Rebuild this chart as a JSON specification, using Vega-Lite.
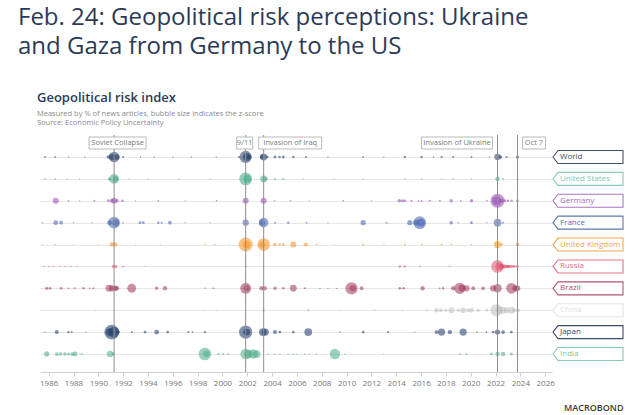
{
  "$schema": "https://vega.github.io/schema/vega-lite/v6.json",
  "background": "white",
  "padding": {"left": 18, "top": 6, "right": 16, "bottom": 4},
  "bounds": "flush",
  "spacing": 0,
  "config": {"view": {"stroke": null}, "font": "Open Sans"},
  "title": {
    "text": ["Feb. 24: Geopolitical risk perceptions: Ukraine", "and Gaza from Germany to the US"],
    "anchor": "start", "fontSize": 24, "font": "Open Sans", "fontWeight": 500,
    "color": "#2b3b57", "lineHeight": 29, "offset": 33
  },
  "datasets": {
    "events": [
      {"event": "Soviet Collapse", "year": 1991.27},
      {"event": "9/11", "year": 2001.87},
      {"event": "Invasion of Iraq", "year": 2003.32},
      {"event": "Invasion of Ukraine", "year": 2022.16},
      {"event": "Oct 7", "year": 2023.77}
    ],
    "tags": [
      {"country": "World"}, {"country": "United States"}, {"country": "Germany"}, {"country": "France"},
      {"country": "United Kingdom"}, {"country": "Russia"}, {"country": "Brazil"}, {"country": "China"},
      {"country": "Japan"}, {"country": "India"}
    ],
    "risk": [
      {"country": "World", "year": 1985.71, "z": 0.08},
      {"country": "World", "year": 1986.52, "z": 0.08},
      {"country": "World", "year": 1987.6, "z": 0.04},
      {"country": "World", "year": 1988.9, "z": 0.04},
      {"country": "World", "year": 1990.8, "z": 0.3},
      {"country": "World", "year": 1991.1, "z": 1.0},
      {"country": "World", "year": 1991.27, "z": 2.8},
      {"country": "World", "year": 1991.5, "z": 0.8},
      {"country": "World", "year": 1992.0, "z": 0.1},
      {"country": "World", "year": 1993.4, "z": 0.05},
      {"country": "World", "year": 1994.5, "z": 0.05},
      {"country": "World", "year": 1996.0, "z": 0.04},
      {"country": "World", "year": 1997.5, "z": 0.04},
      {"country": "World", "year": 1999.5, "z": 0.04},
      {"country": "World", "year": 2001.33, "z": 0.1},
      {"country": "World", "year": 2001.87, "z": 3.8},
      {"country": "World", "year": 2001.95, "z": 1.5},
      {"country": "World", "year": 2002.15, "z": 0.5},
      {"country": "World", "year": 2003.2, "z": 0.6},
      {"country": "World", "year": 2003.32, "z": 1.2},
      {"country": "World", "year": 2003.6, "z": 0.2},
      {"country": "World", "year": 2004.23, "z": 0.2},
      {"country": "World", "year": 2004.6, "z": 0.15},
      {"country": "World", "year": 2004.9, "z": 0.2},
      {"country": "World", "year": 2005.71, "z": 0.15},
      {"country": "World", "year": 2006.72, "z": 0.12},
      {"country": "World", "year": 2008.5, "z": 0.04},
      {"country": "World", "year": 2011.34, "z": 0.08},
      {"country": "World", "year": 2013.0, "z": 0.04},
      {"country": "World", "year": 2014.69, "z": 0.15},
      {"country": "World", "year": 2016.04, "z": 0.15},
      {"country": "World", "year": 2017.0, "z": 0.06},
      {"country": "World", "year": 2017.65, "z": 0.12},
      {"country": "World", "year": 2018.59, "z": 0.1},
      {"country": "World", "year": 2020.06, "z": 0.1},
      {"country": "World", "year": 2021.5, "z": 0.04},
      {"country": "World", "year": 2022.16, "z": 1.0},
      {"country": "World", "year": 2022.4, "z": 0.3},
      {"country": "World", "year": 2022.9, "z": 0.1},
      {"country": "World", "year": 2023.77, "z": 0.25},

      {"country": "United States", "year": 1985.71, "z": 0.06},
      {"country": "United States", "year": 1986.52, "z": 0.06},
      {"country": "United States", "year": 1987.5, "z": 0.04},
      {"country": "United States", "year": 1988.5, "z": 0.04},
      {"country": "United States", "year": 1990.9, "z": 0.3},
      {"country": "United States", "year": 1991.27, "z": 2.4},
      {"country": "United States", "year": 1991.4, "z": 0.8},
      {"country": "United States", "year": 1992.5, "z": 0.04},
      {"country": "United States", "year": 1994.0, "z": 0.04},
      {"country": "United States", "year": 1996.5, "z": 0.04},
      {"country": "United States", "year": 1999.0, "z": 0.04},
      {"country": "United States", "year": 2001.87, "z": 4.2},
      {"country": "United States", "year": 2002.0, "z": 1.5},
      {"country": "United States", "year": 2003.32, "z": 1.2},
      {"country": "United States", "year": 2003.5, "z": 0.3},
      {"country": "United States", "year": 2004.23, "z": 0.1},
      {"country": "United States", "year": 2004.9, "z": 0.1},
      {"country": "United States", "year": 2006.5, "z": 0.04},
      {"country": "United States", "year": 2009.0, "z": 0.04},
      {"country": "United States", "year": 2011.34, "z": 0.04},
      {"country": "United States", "year": 2014.69, "z": 0.05},
      {"country": "United States", "year": 2016.04, "z": 0.05},
      {"country": "United States", "year": 2017.65, "z": 0.05},
      {"country": "United States", "year": 2018.59, "z": 0.05},
      {"country": "United States", "year": 2020.06, "z": 0.05},
      {"country": "United States", "year": 2022.16, "z": 0.5},
      {"country": "United States", "year": 2022.6, "z": 0.08},
      {"country": "United States", "year": 2023.77, "z": 0.1},

      {"country": "Germany", "year": 1986.57, "z": 0.9},
      {"country": "Germany", "year": 1987.59, "z": 0.08},
      {"country": "Germany", "year": 1988.5, "z": 0.04},
      {"country": "Germany", "year": 1989.68, "z": 0.1},
      {"country": "Germany", "year": 1990.81, "z": 0.2},
      {"country": "Germany", "year": 1991.1, "z": 0.4},
      {"country": "Germany", "year": 1991.27, "z": 0.9},
      {"country": "Germany", "year": 1991.5, "z": 0.3},
      {"country": "Germany", "year": 1991.94, "z": 0.15},
      {"country": "Germany", "year": 1993.0, "z": 0.04},
      {"country": "Germany", "year": 1994.83, "z": 0.08},
      {"country": "Germany", "year": 1997.0, "z": 0.04},
      {"country": "Germany", "year": 1999.53, "z": 0.08},
      {"country": "Germany", "year": 2001.87, "z": 0.9},
      {"country": "Germany", "year": 2003.32, "z": 0.9},
      {"country": "Germany", "year": 2004.2, "z": 0.06},
      {"country": "Germany", "year": 2005.5, "z": 0.06},
      {"country": "Germany", "year": 2007.0, "z": 0.04},
      {"country": "Germany", "year": 2009.73, "z": 0.08},
      {"country": "Germany", "year": 2012.0, "z": 0.04},
      {"country": "Germany", "year": 2014.24, "z": 0.3},
      {"country": "Germany", "year": 2014.5, "z": 0.25},
      {"country": "Germany", "year": 2014.69, "z": 0.15},
      {"country": "Germany", "year": 2015.23, "z": 0.12},
      {"country": "Germany", "year": 2015.8, "z": 0.08},
      {"country": "Germany", "year": 2016.04, "z": 0.1},
      {"country": "Germany", "year": 2016.71, "z": 0.12},
      {"country": "Germany", "year": 2017.51, "z": 0.1},
      {"country": "Germany", "year": 2018.43, "z": 0.3},
      {"country": "Germany", "year": 2019.2, "z": 0.08},
      {"country": "Germany", "year": 2020.06, "z": 0.3},
      {"country": "Germany", "year": 2021.3, "z": 0.08},
      {"country": "Germany", "year": 2022.1, "z": 2.0},
      {"country": "Germany", "year": 2022.16, "z": 5.0},
      {"country": "Germany", "year": 2022.5, "z": 0.4},
      {"country": "Germany", "year": 2022.75, "z": 0.2},
      {"country": "Germany", "year": 2023.0, "z": 0.15},
      {"country": "Germany", "year": 2023.3, "z": 0.15},
      {"country": "Germany", "year": 2023.77, "z": 0.15},

      {"country": "France", "year": 1985.5, "z": 0.05},
      {"country": "France", "year": 1986.57, "z": 0.6},
      {"country": "France", "year": 1987.0, "z": 0.35},
      {"country": "France", "year": 1988.0, "z": 0.04},
      {"country": "France", "year": 1989.5, "z": 0.04},
      {"country": "France", "year": 1990.9, "z": 0.6},
      {"country": "France", "year": 1991.27, "z": 3.5},
      {"country": "France", "year": 1991.4, "z": 1.2},
      {"country": "France", "year": 1992.0, "z": 0.06},
      {"country": "France", "year": 1993.36, "z": 0.2},
      {"country": "France", "year": 1993.63, "z": 0.2},
      {"country": "France", "year": 1994.83, "z": 0.15},
      {"country": "France", "year": 1995.1, "z": 0.1},
      {"country": "France", "year": 1995.77, "z": 0.35},
      {"country": "France", "year": 1997.0, "z": 0.04},
      {"country": "France", "year": 1999.0, "z": 0.04},
      {"country": "France", "year": 2001.87, "z": 1.0},
      {"country": "France", "year": 2003.2, "z": 1.0},
      {"country": "France", "year": 2003.32, "z": 2.3},
      {"country": "France", "year": 2004.23, "z": 0.1},
      {"country": "France", "year": 2005.3, "z": 0.15},
      {"country": "France", "year": 2006.78, "z": 0.08},
      {"country": "France", "year": 2008.5, "z": 0.04},
      {"country": "France", "year": 2011.34, "z": 0.7},
      {"country": "France", "year": 2013.22, "z": 0.1},
      {"country": "France", "year": 2015.1, "z": 0.7},
      {"country": "France", "year": 2015.6, "z": 0.8},
      {"country": "France", "year": 2015.9, "z": 4.0},
      {"country": "France", "year": 2016.0, "z": 1.5},
      {"country": "France", "year": 2018.43, "z": 0.3},
      {"country": "France", "year": 2019.0, "z": 0.05},
      {"country": "France", "year": 2020.06, "z": 0.2},
      {"country": "France", "year": 2021.3, "z": 0.05},
      {"country": "France", "year": 2022.16, "z": 1.5},
      {"country": "France", "year": 2022.6, "z": 0.1},
      {"country": "France", "year": 2023.77, "z": 0.08},

      {"country": "United Kingdom", "year": 1985.5, "z": 0.04},
      {"country": "United Kingdom", "year": 1986.52, "z": 0.06},
      {"country": "United Kingdom", "year": 1988.0, "z": 0.04},
      {"country": "United Kingdom", "year": 1990.0, "z": 0.04},
      {"country": "United Kingdom", "year": 1991.08, "z": 0.5},
      {"country": "United Kingdom", "year": 1991.35, "z": 0.5},
      {"country": "United Kingdom", "year": 1993.0, "z": 0.04},
      {"country": "United Kingdom", "year": 1995.0, "z": 0.04},
      {"country": "United Kingdom", "year": 1998.6, "z": 0.06},
      {"country": "United Kingdom", "year": 1999.4, "z": 0.06},
      {"country": "United Kingdom", "year": 2000.5, "z": 0.04},
      {"country": "United Kingdom", "year": 2001.87, "z": 5.0},
      {"country": "United Kingdom", "year": 2001.95, "z": 1.5},
      {"country": "United Kingdom", "year": 2003.2, "z": 1.0},
      {"country": "United Kingdom", "year": 2003.32, "z": 4.0},
      {"country": "United Kingdom", "year": 2004.23, "z": 0.3},
      {"country": "United Kingdom", "year": 2004.6, "z": 0.15},
      {"country": "United Kingdom", "year": 2004.9, "z": 0.2},
      {"country": "United Kingdom", "year": 2005.71, "z": 0.9},
      {"country": "United Kingdom", "year": 2006.72, "z": 0.4},
      {"country": "United Kingdom", "year": 2007.58, "z": 0.1},
      {"country": "United Kingdom", "year": 2009.0, "z": 0.04},
      {"country": "United Kingdom", "year": 2011.34, "z": 0.12},
      {"country": "United Kingdom", "year": 2013.0, "z": 0.05},
      {"country": "United Kingdom", "year": 2014.69, "z": 0.1},
      {"country": "United Kingdom", "year": 2016.04, "z": 0.1},
      {"country": "United Kingdom", "year": 2017.65, "z": 0.1},
      {"country": "United Kingdom", "year": 2018.45, "z": 0.1},
      {"country": "United Kingdom", "year": 2020.06, "z": 0.08},
      {"country": "United Kingdom", "year": 2022.16, "z": 1.3},
      {"country": "United Kingdom", "year": 2022.5, "z": 0.15},
      {"country": "United Kingdom", "year": 2023.77, "z": 0.35},

      {"country": "Russia", "year": 1985.6, "z": 0.05},
      {"country": "Russia", "year": 1986.0, "z": 0.05},
      {"country": "Russia", "year": 1986.4, "z": 0.05},
      {"country": "Russia", "year": 1986.9, "z": 0.05},
      {"country": "Russia", "year": 1987.3, "z": 0.05},
      {"country": "Russia", "year": 1987.8, "z": 0.05},
      {"country": "Russia", "year": 1988.3, "z": 0.05},
      {"country": "Russia", "year": 1991.21, "z": 0.3},
      {"country": "Russia", "year": 1991.4, "z": 0.3},
      {"country": "Russia", "year": 1992.0, "z": 0.1},
      {"country": "Russia", "year": 1993.8, "z": 0.03},
      {"country": "Russia", "year": 2001.87, "z": 0.1},
      {"country": "Russia", "year": 2003.32, "z": 0.06},
      {"country": "Russia", "year": 2014.29, "z": 0.15},
      {"country": "Russia", "year": 2014.69, "z": 0.15},
      {"country": "Russia", "year": 2015.9, "z": 0.08},
      {"country": "Russia", "year": 2018.3, "z": 0.06},
      {"country": "Russia", "year": 2022.16, "z": 4.0},
      {"country": "Russia", "year": 2022.3, "z": 1.5},
      {"country": "Russia", "year": 2022.45, "z": 0.6},
      {"country": "Russia", "year": 2022.6, "z": 0.5},
      {"country": "Russia", "year": 2022.75, "z": 0.4},
      {"country": "Russia", "year": 2022.9, "z": 0.3},
      {"country": "Russia", "year": 2023.0, "z": 0.3},
      {"country": "Russia", "year": 2023.1, "z": 0.25},
      {"country": "Russia", "year": 2023.25, "z": 0.25},
      {"country": "Russia", "year": 2023.4, "z": 0.2},
      {"country": "Russia", "year": 2023.55, "z": 0.2},
      {"country": "Russia", "year": 2023.77, "z": 0.2},

      {"country": "Brazil", "year": 1985.84, "z": 0.25},
      {"country": "Brazil", "year": 1986.11, "z": 0.2},
      {"country": "Brazil", "year": 1987.0, "z": 0.2},
      {"country": "Brazil", "year": 1987.6, "z": 0.08},
      {"country": "Brazil", "year": 1988.1, "z": 0.1},
      {"country": "Brazil", "year": 1988.8, "z": 0.15},
      {"country": "Brazil", "year": 1989.3, "z": 0.06},
      {"country": "Brazil", "year": 1989.6, "z": 0.1},
      {"country": "Brazil", "year": 1990.86, "z": 1.2},
      {"country": "Brazil", "year": 1991.1, "z": 1.0},
      {"country": "Brazil", "year": 1991.35, "z": 0.8},
      {"country": "Brazil", "year": 1991.48, "z": 0.6},
      {"country": "Brazil", "year": 1992.69, "z": 2.0},
      {"country": "Brazil", "year": 1994.7, "z": 0.3},
      {"country": "Brazil", "year": 1995.37, "z": 0.5},
      {"country": "Brazil", "year": 1998.59, "z": 0.06},
      {"country": "Brazil", "year": 1999.26, "z": 0.08},
      {"country": "Brazil", "year": 2001.87, "z": 3.0},
      {"country": "Brazil", "year": 2001.95, "z": 1.0},
      {"country": "Brazil", "year": 2003.15, "z": 0.5},
      {"country": "Brazil", "year": 2003.4, "z": 0.5},
      {"country": "Brazil", "year": 2004.23, "z": 0.3},
      {"country": "Brazil", "year": 2004.9, "z": 0.15},
      {"country": "Brazil", "year": 2005.71, "z": 1.2},
      {"country": "Brazil", "year": 2006.64, "z": 0.1},
      {"country": "Brazil", "year": 2007.85, "z": 0.05},
      {"country": "Brazil", "year": 2008.5, "z": 0.05},
      {"country": "Brazil", "year": 2009.2, "z": 0.05},
      {"country": "Brazil", "year": 2010.4, "z": 3.8},
      {"country": "Brazil", "year": 2010.5, "z": 1.0},
      {"country": "Brazil", "year": 2011.21, "z": 0.4},
      {"country": "Brazil", "year": 2014.29, "z": 0.2},
      {"country": "Brazil", "year": 2014.6, "z": 0.15},
      {"country": "Brazil", "year": 2016.12, "z": 0.5},
      {"country": "Brazil", "year": 2017.5, "z": 0.08},
      {"country": "Brazil", "year": 2017.78, "z": 0.15},
      {"country": "Brazil", "year": 2018.59, "z": 0.5},
      {"country": "Brazil", "year": 2019.12, "z": 3.2},
      {"country": "Brazil", "year": 2019.3, "z": 1.2},
      {"country": "Brazil", "year": 2019.66, "z": 1.0},
      {"country": "Brazil", "year": 2020.2, "z": 0.4},
      {"country": "Brazil", "year": 2021.0, "z": 0.35},
      {"country": "Brazil", "year": 2021.81, "z": 1.0},
      {"country": "Brazil", "year": 2022.16, "z": 1.8},
      {"country": "Brazil", "year": 2023.28, "z": 2.8},
      {"country": "Brazil", "year": 2023.6, "z": 1.0},
      {"country": "Brazil", "year": 2023.77, "z": 0.8},

      {"country": "China", "year": 1989.74, "z": 0.05},
      {"country": "China", "year": 1998.59, "z": 0.05},
      {"country": "China", "year": 1999.53, "z": 0.05},
      {"country": "China", "year": 2001.87, "z": 0.06},
      {"country": "China", "year": 2003.32, "z": 0.2},
      {"country": "China", "year": 2006.91, "z": 0.2},
      {"country": "China", "year": 2009.5, "z": 0.05},
      {"country": "China", "year": 2012.28, "z": 0.08},
      {"country": "China", "year": 2014.5, "z": 0.05},
      {"country": "China", "year": 2016.5, "z": 0.1},
      {"country": "China", "year": 2017.24, "z": 0.5},
      {"country": "China", "year": 2017.6, "z": 0.4},
      {"country": "China", "year": 2018.0, "z": 0.3},
      {"country": "China", "year": 2018.45, "z": 0.9},
      {"country": "China", "year": 2019.0, "z": 0.3},
      {"country": "China", "year": 2019.39, "z": 0.8},
      {"country": "China", "year": 2019.8, "z": 0.4},
      {"country": "China", "year": 2020.06, "z": 0.6},
      {"country": "China", "year": 2020.6, "z": 0.3},
      {"country": "China", "year": 2021.3, "z": 0.2},
      {"country": "China", "year": 2022.08, "z": 3.8},
      {"country": "China", "year": 2022.3, "z": 1.2},
      {"country": "China", "year": 2022.61, "z": 1.2},
      {"country": "China", "year": 2022.9, "z": 0.8},
      {"country": "China", "year": 2023.28, "z": 1.2},
      {"country": "China", "year": 2023.5, "z": 0.5},
      {"country": "China", "year": 2023.82, "z": 0.4},

      {"country": "Japan", "year": 1985.71, "z": 0.05},
      {"country": "Japan", "year": 1986.65, "z": 0.4},
      {"country": "Japan", "year": 1987.59, "z": 0.15},
      {"country": "Japan", "year": 1987.86, "z": 0.1},
      {"country": "Japan", "year": 1989.0, "z": 0.04},
      {"country": "Japan", "year": 1990.9, "z": 1.5},
      {"country": "Japan", "year": 1991.08, "z": 5.5},
      {"country": "Japan", "year": 1991.25, "z": 3.0},
      {"country": "Japan", "year": 1991.6, "z": 0.3},
      {"country": "Japan", "year": 1992.69, "z": 0.1},
      {"country": "Japan", "year": 1993.76, "z": 0.2},
      {"country": "Japan", "year": 1994.7, "z": 0.6},
      {"country": "Japan", "year": 1995.59, "z": 0.2},
      {"country": "Japan", "year": 1997.25, "z": 0.1},
      {"country": "Japan", "year": 1997.6, "z": 0.06},
      {"country": "Japan", "year": 1998.59, "z": 0.15},
      {"country": "Japan", "year": 2001.87, "z": 4.4},
      {"country": "Japan", "year": 2001.95, "z": 1.2},
      {"country": "Japan", "year": 2003.25, "z": 1.5},
      {"country": "Japan", "year": 2003.45, "z": 1.3},
      {"country": "Japan", "year": 2004.23, "z": 0.4},
      {"country": "Japan", "year": 2004.63, "z": 0.2},
      {"country": "Japan", "year": 2005.71, "z": 0.2},
      {"country": "Japan", "year": 2006.91, "z": 1.5},
      {"country": "Japan", "year": 2009.46, "z": 0.06},
      {"country": "Japan", "year": 2011.34, "z": 0.2},
      {"country": "Japan", "year": 2013.35, "z": 0.12},
      {"country": "Japan", "year": 2015.5, "z": 0.04},
      {"country": "Japan", "year": 2017.24, "z": 0.35},
      {"country": "Japan", "year": 2017.65, "z": 1.3},
      {"country": "Japan", "year": 2018.32, "z": 0.5},
      {"country": "Japan", "year": 2019.39, "z": 1.3},
      {"country": "Japan", "year": 2020.5, "z": 0.06},
      {"country": "Japan", "year": 2021.27, "z": 0.08},
      {"country": "Japan", "year": 2021.81, "z": 0.2},
      {"country": "Japan", "year": 2022.16, "z": 0.7},
      {"country": "Japan", "year": 2022.61, "z": 0.35},
      {"country": "Japan", "year": 2023.28, "z": 0.2},

      {"country": "India", "year": 1985.84, "z": 0.7},
      {"country": "India", "year": 1986.65, "z": 0.35},
      {"country": "India", "year": 1986.95, "z": 0.3},
      {"country": "India", "year": 1987.3, "z": 0.3},
      {"country": "India", "year": 1987.6, "z": 0.25},
      {"country": "India", "year": 1987.9, "z": 0.35},
      {"country": "India", "year": 1988.13, "z": 0.6},
      {"country": "India", "year": 1988.66, "z": 0.08},
      {"country": "India", "year": 1990.94, "z": 1.0},
      {"country": "India", "year": 1991.2, "z": 0.3},
      {"country": "India", "year": 1998.59, "z": 4.0},
      {"country": "India", "year": 1998.7, "z": 1.0},
      {"country": "India", "year": 1999.67, "z": 0.1},
      {"country": "India", "year": 2000.07, "z": 0.08},
      {"country": "India", "year": 2000.47, "z": 0.1},
      {"country": "India", "year": 2001.87, "z": 2.8},
      {"country": "India", "year": 2002.1, "z": 1.8},
      {"country": "India", "year": 2002.48, "z": 2.2},
      {"country": "India", "year": 2002.75, "z": 1.5},
      {"country": "India", "year": 2003.69, "z": 0.06},
      {"country": "India", "year": 2004.2, "z": 0.06},
      {"country": "India", "year": 2004.63, "z": 0.06},
      {"country": "India", "year": 2005.3, "z": 0.06},
      {"country": "India", "year": 2005.71, "z": 0.06},
      {"country": "India", "year": 2006.0, "z": 0.05},
      {"country": "India", "year": 2006.64, "z": 0.06},
      {"country": "India", "year": 2007.0, "z": 0.05},
      {"country": "India", "year": 2007.58, "z": 0.06},
      {"country": "India", "year": 2009.06, "z": 2.7},
      {"country": "India", "year": 2009.86, "z": 0.06},
      {"country": "India", "year": 2013.0, "z": 0.04},
      {"country": "India", "year": 2019.12, "z": 0.08},
      {"country": "India", "year": 2019.66, "z": 0.08},
      {"country": "India", "year": 2021.67, "z": 0.2},
      {"country": "India", "year": 2022.16, "z": 0.5},
      {"country": "India", "year": 2022.61, "z": 0.5},
      {"country": "India", "year": 2023.28, "z": 0.2},
      {"country": "India", "year": 2023.77, "z": 0.1}
    ]
  },
  "hconcat": [
    {
      "width": 512,
      "height": 237,
      "title": {
        "text": "Geopolitical risk index",
        "subtitle": ["Measured by % of news articles, bubble size indicates the z-score", "Source: Economic Policy Uncertainty"],
        "anchor": "start", "frame": "group", "dx": -3, "fontSize": 13, "fontWeight": 600, "color": "#2b3b57", "font": "Open Sans",
        "subtitleFontSize": 7.5, "subtitleColor": "#8a8a8a", "subtitleFont": "Open Sans", "subtitlePadding": 5, "subtitleLineHeight": 9, "offset": 8
      },
      "layer": [
        {
          "data": {"name": "risk"},
          "mark": {"type": "circle", "opacity": 0.55},
          "encoding": {
            "x": {
              "field": "year", "type": "quantitative",
              "scale": {"domain": [1985.3, 2026.55], "nice": false, "zero": false},
              "axis": {
                "values": [1986, 1988, 1990, 1992, 1994, 1996, 1998, 2000, 2002, 2004, 2006, 2008, 2010, 2012, 2014, 2016, 2018, 2020, 2022, 2024, 2026],
                "tickCount": 50,
                "format": "d", "grid": false, "labelFlush": false, "labelOverlap": false,
                "labelFontSize": 8, "labelColor": "#777777", "labelPadding": 3,
                "tickColor": "#cccccc", "tickSize": 4, "domainColor": "#d0d0d0",
                "title": "MACROBOND", "titleX": 583, "titleY": 35, "titleAlign": "right", "titleBaseline": "middle",
                "titleFontSize": 9, "titleFontWeight": 600, "titleColor": "#3b3b3b"
              }
            },
            "y": {
              "field": "country", "type": "nominal",
              "scale": {"type": "point", "domain": ["World", "United States", "Germany", "France", "United Kingdom", "Russia", "Brazil", "China", "Japan", "India"], "padding": 0.913, "align": 0.55},
              "axis": {"labels": false, "ticks": false, "domain": true, "domainColor": "#ffffff", "offset": 22, "title": null, "grid": true, "gridColor": "#e6e6e6", "gridWidth": 1}
            },
            "size": {"field": "z", "type": "quantitative", "scale": {"domain": [0, 10], "range": [0, 400]}, "legend": null},
            "color": {
              "field": "country", "type": "nominal",
              "scale": {"domain": ["World", "United States", "Germany", "France", "United Kingdom", "Russia", "Brazil", "China", "Japan", "India"],
                        "range": ["#1f3864", "#3fa585", "#9646b4", "#3f5fae", "#f7921e", "#e0526a", "#a3345c", "#bdbdbd", "#1c3566", "#49ab85"]},
              "legend": null
            }
          }
        },
        {
          "data": {"name": "events"},
          "mark": {"type": "rule", "color": "#8f8f8f", "strokeWidth": 1},
          "encoding": {"x": {"field": "year", "type": "quantitative"}}
        },
        {
          "data": {"name": "events"},
          "transform": [{"filter": "datum.event === 'Soviet Collapse'"}],
          "encoding": {"x": {"field": "year", "type": "quantitative"}, "y": {"datum": "World", "type": "nominal"}},
          "layer": [
            {"mark": {"type": "point", "shape": "M-25,-6H32V6H-25Z", "size": 4, "filled": true, "fill": "white", "stroke": "#a8a8a8", "strokeWidth": 0.8, "opacity": 1, "yOffset": -14}},
            {"mark": {"type": "text", "dx": 3.5, "dy": -14, "fontSize": 7.5, "color": "#7a7a7a", "align": "center", "baseline": "middle", "font": "Open Sans"}, "encoding": {"text": {"field": "event"}}}
          ]
        },
        {
          "data": {"name": "events"},
          "transform": [{"filter": "datum.event === '9/11'"}],
          "encoding": {"x": {"field": "year", "type": "quantitative"}, "y": {"datum": "World", "type": "nominal"}},
          "layer": [
            {"mark": {"type": "point", "shape": "M-9,-6H7V6H-9Z", "size": 4, "filled": true, "fill": "white", "stroke": "#a8a8a8", "strokeWidth": 0.8, "opacity": 1, "yOffset": -14}},
            {"mark": {"type": "text", "dx": -1, "dy": -14, "fontSize": 7.5, "color": "#7a7a7a", "align": "center", "baseline": "middle", "font": "Open Sans"}, "encoding": {"text": {"field": "event"}}}
          ]
        },
        {
          "data": {"name": "events"},
          "transform": [{"filter": "datum.event === 'Invasion of Iraq'"}],
          "encoding": {"x": {"field": "year", "type": "quantitative"}, "y": {"datum": "World", "type": "nominal"}},
          "layer": [
            {"mark": {"type": "point", "shape": "M-5,-6H58V6H-5Z", "size": 4, "filled": true, "fill": "white", "stroke": "#a8a8a8", "strokeWidth": 0.8, "opacity": 1, "yOffset": -14}},
            {"mark": {"type": "text", "dx": 26.5, "dy": -14, "fontSize": 7.5, "color": "#7a7a7a", "align": "center", "baseline": "middle", "font": "Open Sans"}, "encoding": {"text": {"field": "event"}}}
          ]
        },
        {
          "data": {"name": "events"},
          "transform": [{"filter": "datum.event === 'Invasion of Ukraine'"}],
          "encoding": {"x": {"field": "year", "type": "quantitative"}, "y": {"datum": "World", "type": "nominal"}},
          "layer": [
            {"mark": {"type": "point", "shape": "M-76,-6H-5V6H-76Z", "size": 4, "filled": true, "fill": "white", "stroke": "#a8a8a8", "strokeWidth": 0.8, "opacity": 1, "yOffset": -14}},
            {"mark": {"type": "text", "dx": -40.5, "dy": -14, "fontSize": 7.5, "color": "#7a7a7a", "align": "center", "baseline": "middle", "font": "Open Sans"}, "encoding": {"text": {"field": "event"}}}
          ]
        },
        {
          "data": {"name": "events"},
          "transform": [{"filter": "datum.event === 'Oct 7'"}],
          "encoding": {"x": {"field": "year", "type": "quantitative"}, "y": {"datum": "World", "type": "nominal"}},
          "layer": [
            {"mark": {"type": "point", "shape": "M5,-6H28V6H5Z", "size": 4, "filled": true, "fill": "white", "stroke": "#a8a8a8", "strokeWidth": 0.8, "opacity": 1, "yOffset": -14}},
            {"mark": {"type": "text", "dx": 16.5, "dy": -14, "fontSize": 7.5, "color": "#7a7a7a", "align": "center", "baseline": "middle", "font": "Open Sans"}, "encoding": {"text": {"field": "event"}}}
          ]
        }
      ]
    },
    {
      "width": 72,
      "height": 237,
      "data": {"name": "tags"},
      "encoding": {
        "y": {
          "field": "country", "type": "nominal",
          "scale": {"type": "point", "domain": ["World", "United States", "Germany", "France", "United Kingdom", "Russia", "Brazil", "China", "Japan", "India"], "padding": 0.913, "align": 0.55},
          "axis": null
        }
      },
      "layer": [
        {
          "mark": {"type": "point", "shape": "M-35,0L-30,-6.5H35V6.5H-30Z", "size": 4, "filled": true, "fill": "white", "strokeWidth": 1.1, "opacity": 1},
          "encoding": {
            "stroke": {
              "field": "country", "type": "nominal",
              "scale": {"domain": ["World", "United States", "Germany", "France", "United Kingdom", "Russia", "Brazil", "China", "Japan", "India"],
                        "range": ["#44526e", "#8ccbb3", "#a977bf", "#6277b0", "#f2a650", "#df7285", "#ae5776", "#e3e3e3", "#3c4c70", "#86cbaf"]},
              "legend": null
            }
          }
        },
        {
          "mark": {"type": "text", "align": "left", "baseline": "middle", "dx": -28, "fontSize": 8, "font": "Open Sans"},
          "encoding": {
            "text": {"field": "country"},
            "fill": {
              "field": "country", "type": "nominal",
              "scale": {"domain": ["World", "United States", "Germany", "France", "United Kingdom", "Russia", "Brazil", "China", "Japan", "India"],
                        "range": ["#3d4b66", "#7fc7ad", "#a36cbb", "#5a6fab", "#f0a24e", "#dc6e82", "#a9506f", "#e0e0e0", "#34466b", "#79c6a6"]},
              "legend": null
            }
          }
        }
      ]
    }
  ]
}
